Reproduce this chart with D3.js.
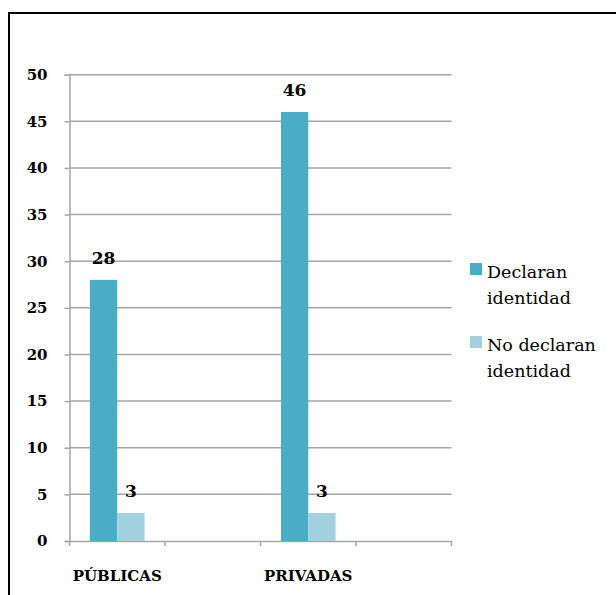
<!DOCTYPE html>
<html><head><meta charset="utf-8">
<script src="https://cdn.jsdelivr.net/npm/d3@7"></script>
<style>body{margin:0;background:#fff}svg{display:block}</style>
</head><body>
<script>
const categories = ["PÚBLICAS", "", "PRIVADAS", " "];
const seriesNames = ["Declaran identidad", "No declaran identidad"];
const declaran = [28, null, 46, null];
const noDeclaran = [3, null, 3, null];
const yTicks = [0, 5, 10, 15, 20, 25, 30, 35, 40, 45, 50];
const colors = ["#4BACC6", "#A3D0DF"];

const W = 616, H = 595;
const svg = d3.select("body").append("svg").attr("width", W).attr("height", H);
svg.append("rect").attr("x", 9).attr("y", 13).attr("width", 640).attr("height", 640)
  .attr("fill", "none").attr("stroke", "#000").attr("stroke-width", 2);

const x0 = 69.5, x1 = 451.5, yTop = 74.7, yBot = 541;
const x = d3.scaleBand().domain(categories).range([x0, x1]).paddingInner(0).paddingOuter(0);
const y = d3.scaleLinear().domain([0, 50]).range([yBot, yTop]);
const sub = d3.scaleBand().domain([0, 1]).range([0, x.bandwidth()]).paddingInner(0).paddingOuter(0.748);

const font = "'DejaVu Serif', serif";
const grid = "#a6a6a6";

// gridlines
svg.append("g").selectAll("line").data(yTicks.filter(d => d > 0)).join("line")
  .attr("x1", x0).attr("x2", x1).attr("y1", d => y(d)).attr("y2", d => y(d))
  .attr("stroke", grid).attr("stroke-width", 1.5);

// y axis
const ya = svg.append("g").attr("transform", `translate(${x0},0)`)
  .call(d3.axisLeft(y).tickValues(yTicks).tickSize(5).tickPadding(17));
ya.select(".domain").attr("stroke", grid).attr("stroke-width", 1.5);
ya.selectAll(".tick line").attr("stroke", grid).attr("stroke-width", 1.5);
ya.selectAll("text").attr("font-family", font).attr("font-weight", "bold")
  .attr("font-size", 15).attr("fill", "#000");

// x axis
const xa = svg.append("g").attr("transform", `translate(0,${yBot})`)
  .call(d3.axisBottom(x).tickValues([]).tickSizeOuter(0));
xa.select(".domain").attr("stroke", grid).attr("stroke-width", 1.5);
const bounds = d3.range(categories.length + 1).map(i => x0 + i * x.bandwidth());
xa.selectAll("line.bt").data(bounds).join("line").attr("class", "bt")
  .attr("x1", d => d).attr("x2", d => d).attr("y1", 0).attr("y2", 5)
  .attr("stroke", grid).attr("stroke-width", 1.5);
xa.selectAll("text.cl").data(categories.filter(c => c.trim())).join("text").attr("class", "cl")
  .attr("x", d => x(d) + x.bandwidth() / 2).attr("y", 40)
  .attr("text-anchor", "middle").attr("font-family", font).attr("font-weight", "bold")
  .attr("font-size", 15).attr("fill", "#000").text(d => d);

// bars
const series = [declaran, noDeclaran];
series.forEach((vals, si) => {
  const data = categories.map((c, i) => ({c, v: vals[i]})).filter(d => d.v != null);
  svg.append("g").selectAll("rect").data(data).join("rect")
    .attr("x", d => x(d.c) + sub(si)).attr("width", sub.bandwidth())
    .attr("y", d => y(d.v)).attr("height", d => y(0) - y(d.v))
    .attr("fill", colors[si]);
  svg.append("g").selectAll("text").data(data).join("text")
    .attr("x", d => x(d.c) + sub(si) + sub.bandwidth() / 2).attr("y", d => y(d.v) - 16)
    .attr("text-anchor", "middle").attr("font-family", font).attr("font-weight", "bold")
    .attr("font-size", 17).attr("fill", "#000").text(d => d.v);
});

// legend
const leg = [[ "Declaran", "identidad"], ["No declaran", "identidad"]];
const legY = [263, 336];
leg.forEach((lines, i) => {
  svg.append("rect").attr("x", 470).attr("y", legY[i]).attr("width", 12).attr("height", 12)
    .attr("fill", colors[i]);
  lines.forEach((t, j) => {
    svg.append("text").attr("x", 487).attr("y", legY[i] + 15 + j * 25.5)
      .attr("font-family", font).attr("font-size", 17.5).attr("fill", "#000").text(t);
  });
});
</script>
</body></html>
